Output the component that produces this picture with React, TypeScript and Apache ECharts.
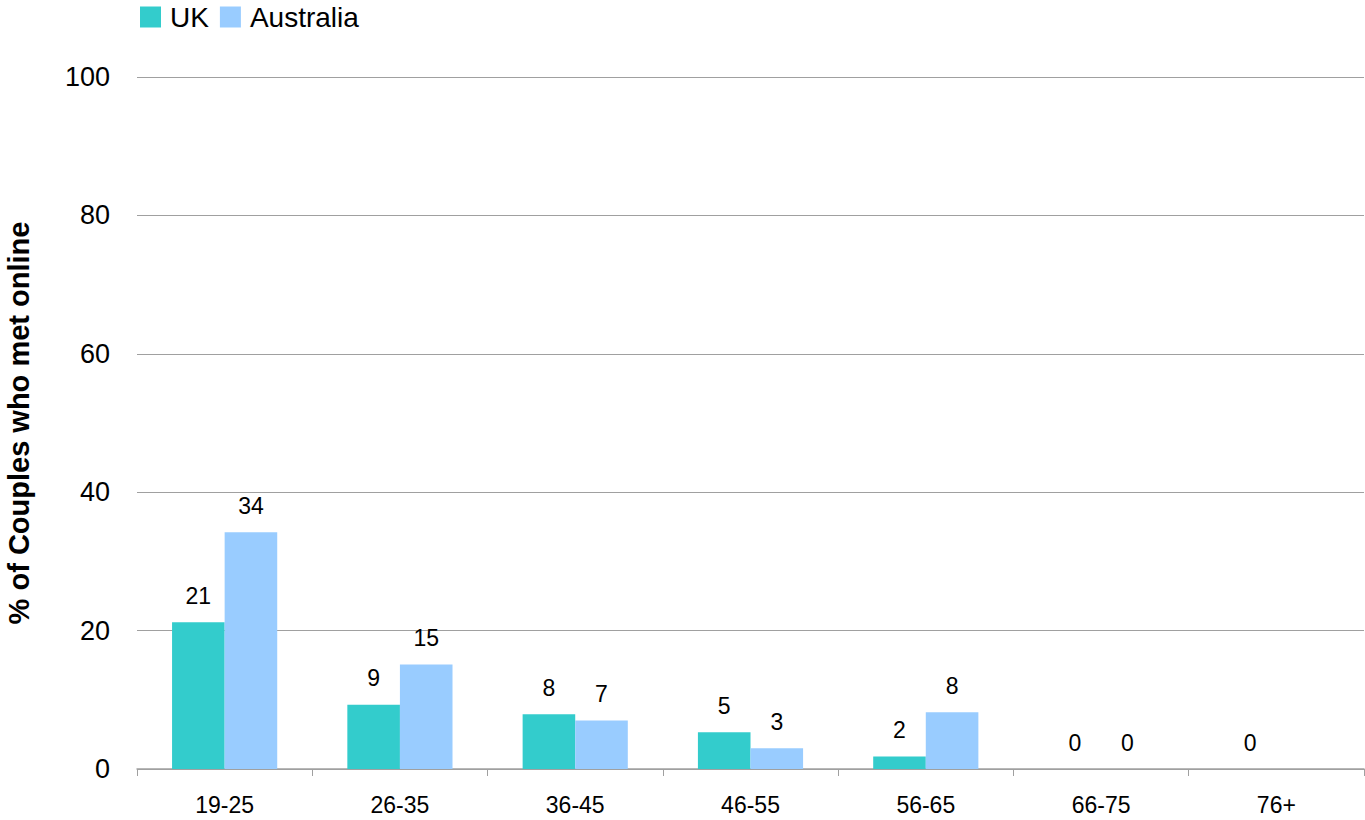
import React, { useEffect, useRef } from "react";
import * as echarts from "echarts";

const categories = ["19-25", "26-35", "36-45", "46-55", "56-65", "66-75", "76+"];
const ukValues: (number | null)[] = [21.2, 9.3, 7.9, 5.3, 1.8, 0, 0];
const australiaValues: (number | null)[] = [34.2, 15.1, 7.0, 3.0, 8.2, 0, null];
const seriesNames = ["UK", "Australia"];
const yAxisName = "% of Couples who met online";

export default function App() {
  const ref = useRef<HTMLDivElement>(null);
  useEffect(() => {
    if (!ref.current) return;
    const chart = echarts.init(ref.current, null, { renderer: "svg" });
    const font = "Liberation Sans, Arial, sans-serif";
    const label = {
      show: true,
      position: "top" as const,
      distance: 15,
      fontSize: 23,
      fontFamily: font,
      color: "#000",
      formatter: (p: any) => (p.value == null ? "" : String(Math.round(p.value))),
    };
    chart.setOption({
      animation: false,
      textStyle: { fontFamily: font },
      legend: {
        left: 140,
        top: 3,
        padding: 0,
        itemWidth: 21,
        itemHeight: 21,
        itemGap: 11,
        icon: "rect",
        textStyle: { fontSize: 28, color: "#000", fontFamily: font, padding: [0, 0, 0, 4] },
        data: seriesNames,
      },
      grid: { left: 137, right: 1, top: 77, bottom: 51, containLabel: false, outerBoundsMode: "none" },
      xAxis: {
        type: "category",
        data: categories,
        axisLine: { lineStyle: { color: "#a0a0a0", width: 1.5 } },
        axisTick: { show: true, length: 7, lineStyle: { color: "#a0a0a0" } },
        axisLabel: { fontSize: 23, color: "#000", fontFamily: font, margin: 24 },
      },
      yAxis: {
        type: "value",
        min: 0,
        max: 100,
        interval: 20,
        name: yAxisName,
        nameLocation: "middle",
        nameGap: 104,
        nameMoveOverlap: false,
        nameRotate: 90,
        nameTextStyle: { fontSize: 29, fontWeight: "bold", color: "#000", fontFamily: font },
        axisLine: { show: false },
        axisTick: { show: false },
        axisLabel: { fontSize: 27, color: "#000", fontFamily: font, margin: 27 },
        splitLine: { lineStyle: { color: "#a0a0a0", width: 1 } },
      },
      series: [
        {
          name: seriesNames[0],
          type: "bar",
          data: ukValues,
          barGap: "0%",
          barCategoryGap: "40%",
          itemStyle: { color: "#33CCCC" },
          label,
        },
        {
          name: seriesNames[1],
          type: "bar",
          data: australiaValues,
          barGap: "0%",
          barCategoryGap: "40%",
          itemStyle: { color: "#99CCFF" },
          label,
        },
      ],
    });
    return () => chart.dispose();
  }, []);
  return (
    <div
      ref={ref}
      style={{ position: "fixed", left: 0, top: 0, width: 1365, height: 820, background: "#fff" }}
    />
  );
}
